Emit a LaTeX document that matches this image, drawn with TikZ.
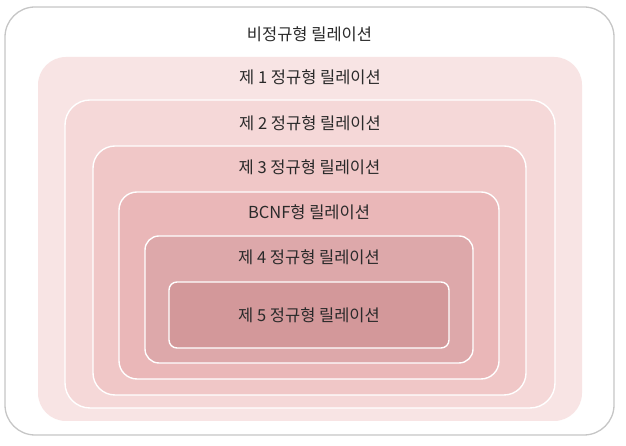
\documentclass[tikz,border=0pt]{standalone}
\usepackage{fontspec}
\newfontfamily\kr{Noto Sans CJK KR}
\usepackage{tikz}
\usetikzlibrary{positioning}
\usepackage{xcolor}

\definecolor{frame}{HTML}{C6C6C6}
\definecolor{nfone}{HTML}{F8E4E4}
\definecolor{nftwo}{HTML}{F5D8D8}
\definecolor{nfthree}{HTML}{F0C7C7}
\definecolor{nfbcnf}{HTML}{EAB7B8}
\definecolor{nffour}{HTML}{DDA8AA}
\definecolor{nffive}{HTML}{D3989A}
\definecolor{txt}{HTML}{2A2A2A}

\begin{document}
\begin{tikzpicture}[
    x=1pt, y=1pt,
    level/.style={draw=white, line width=1.4pt, inner sep=0pt},
    tag/.style={font=\kr\fontsize{16.5}{19}\selectfont, text=txt, inner sep=0pt},
]
\useasboundingbox (0,0) rectangle (626,446);

% outer set
\node[draw=frame, line width=1.3pt, fill=white, rounded corners=30pt,
      minimum width=609pt, minimum height=428pt, inner sep=0pt] (nf0) at (309.5,225) {};
\node[tag] (t0) at ([yshift=-28pt]nf0.north) {비정규형 릴레이션};

% nested normal forms
\node[level, draw=none, fill=nfone, rounded corners=28pt,
      minimum width=544pt, minimum height=364pt] (nf1) at (310,207) {};
\node[tag] (t1) at ([yshift=-21pt]nf1.north) {제 1 정규형 릴레이션};

\node[level, fill=nftwo, rounded corners=25pt,
      minimum width=490pt, minimum height=308pt] (nf2) at (310,192) {};
\node[tag] (t2) at ([yshift=-24pt]nf2.north) {제 2 정규형 릴레이션};

\node[level, fill=nfthree, rounded corners=22pt,
      minimum width=433pt, minimum height=249pt] (nf3) at (309.5,175.5) {};
\node[tag] (t3) at ([yshift=-22pt]nf3.north) {제 3 정규형 릴레이션};

\node[level, fill=nfbcnf, rounded corners=18pt,
      minimum width=380pt, minimum height=187pt] (bcnf) at (309,160.5) {};
\node[tag] (tb) at ([yshift=-21pt]bcnf.north) {BCNF형 릴레이션};

\node[level, fill=nffour, rounded corners=14pt,
      minimum width=328pt, minimum height=127pt] (nf4) at (309,146.5) {};
\node[tag] (t4) at ([yshift=-22pt]nf4.north) {제 4 정규형 릴레이션};

\node[level, fill=nffive, rounded corners=8pt,
      minimum width=280pt, minimum height=66pt] (nf5) at (309,131) {};
\node[tag] (t5) at (nf5.center) {제 5 정규형 릴레이션};
\end{tikzpicture}
\end{document}
